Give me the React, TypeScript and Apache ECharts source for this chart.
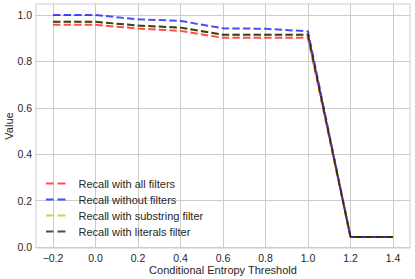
import React, { useEffect, useRef } from "react";
import * as echarts from "echarts";

const thresholds = [-0.2, 0, 0.2, 0.4, 0.6, 0.8, 1.0, 1.2, 1.4];
const recallAll = [0.958, 0.958, 0.942, 0.932, 0.902, 0.902, 0.902, 0.044, 0.044];
const recallNone = [1.0, 1.0, 0.982, 0.975, 0.943, 0.941, 0.93, 0.044, 0.044];
const recallSubstring = [0.971, 0.971, 0.955, 0.946, 0.915, 0.915, 0.915, 0.044, 0.044];
const recallLiterals = [0.971, 0.971, 0.955, 0.946, 0.915, 0.915, 0.915, 0.044, 0.044];
const xTicks = [-0.2, 0, 0.2, 0.4, 0.6, 0.8, 1.0, 1.2, 1.4];
const yTicks = [0, 0.2, 0.4, 0.6, 0.8, 1.0];
const seriesNames = [
  "Recall with all filters",
  "Recall without filters",
  "Recall with substring filter",
  "Recall with literals filter",
];
const seriesColors = [
  "rgba(255,0,0,0.7)",
  "rgba(0,0,255,0.7)",
  "rgba(191,191,0,0.7)",
  "rgba(0,0,0,0.7)",
];
const seriesValues = [recallAll, recallNone, recallSubstring, recallLiterals];

const FONT = "'Liberation Sans', Arial, sans-serif";
const TEXT = "#262626";

export default function App() {
  const ref = useRef<HTMLDivElement>(null);
  useEffect(() => {
    if (!ref.current) return;
    const chart = echarts.init(ref.current, undefined, { renderer: "svg" });
    const fmt = (v: number) => {
      const s = v.toFixed(1);
      return s.startsWith("-") ? "\u2212" + s.slice(1) : s;
    };
    chart.setOption({
      animation: false,
      backgroundColor: "#ffffff",
      textStyle: { fontFamily: FONT },
      grid: {
        left: 36,
        right: 5,
        top: 4,
        bottom: 31,
        show: true,
        borderColor: "#cccccc",
        borderWidth: 1,
        containLabel: false,
        outerBoundsMode: "none",
      },
      legend: {
        orient: "vertical",
        left: 46,
        top: 177,
        padding: 0,
        itemGap: 3,
        itemWidth: 19.5,
        itemHeight: 2,
        icon: "path://M0,0H7.5V2H0Z M11.5,0H19.5V2H11.5Z",
        textStyle: {
          fontSize: 11,
          color: TEXT,
          fontFamily: FONT,
          lineHeight: 13,
          padding: [0, 0, 0, 8],
        },
        data: seriesNames,
      },
      xAxis: {
        type: "value",
        min: -0.28,
        max: 1.48,
        name: "Conditional Entropy Threshold",
        nameLocation: "middle",
        nameGap: 16,
        nameMoveOverlap: false,
        nameTextStyle: { fontSize: 11, color: TEXT, fontFamily: FONT },
        axisLine: { show: false },
        axisTick: { show: false, customValues: xTicks },
        axisLabel: {
          customValues: xTicks,
          formatter: fmt,
          fontSize: 10.5,
          color: TEXT,
          fontFamily: FONT,
          margin: 4,
        },
        splitLine: { show: true, lineStyle: { color: "#cccccc", width: 1 } },
      },
      yAxis: {
        type: "value",
        min: -0.0038,
        max: 1.0478,
        name: "Value",
        nameLocation: "middle",
        nameGap: 22,
        nameMoveOverlap: false,
        nameTextStyle: { fontSize: 11, color: TEXT, fontFamily: FONT },
        axisLine: { show: false },
        axisTick: { show: false, customValues: yTicks },
        axisLabel: {
          customValues: yTicks,
          formatter: fmt,
          fontSize: 10.5,
          color: TEXT,
          fontFamily: FONT,
          margin: 4,
        },
        splitLine: { show: true, lineStyle: { color: "#cccccc", width: 1 } },
      },
      series: seriesNames.map((name, i) => ({
        name,
        type: "line",
        showSymbol: false,
        symbol: "none",
        data: thresholds.map((x, j) => [x, seriesValues[i][j]]),
        itemStyle: { color: seriesColors[i] },
        lineStyle: { color: seriesColors[i], width: 2, type: [7.4, 3.2] },
        z: 2 + i,
      })),
    });
    return () => chart.dispose();
  }, []);
  return (
    <div
      ref={ref}
      style={{ position: "fixed", left: 0, top: 0, width: 415, height: 279 }}
    />
  );
}
